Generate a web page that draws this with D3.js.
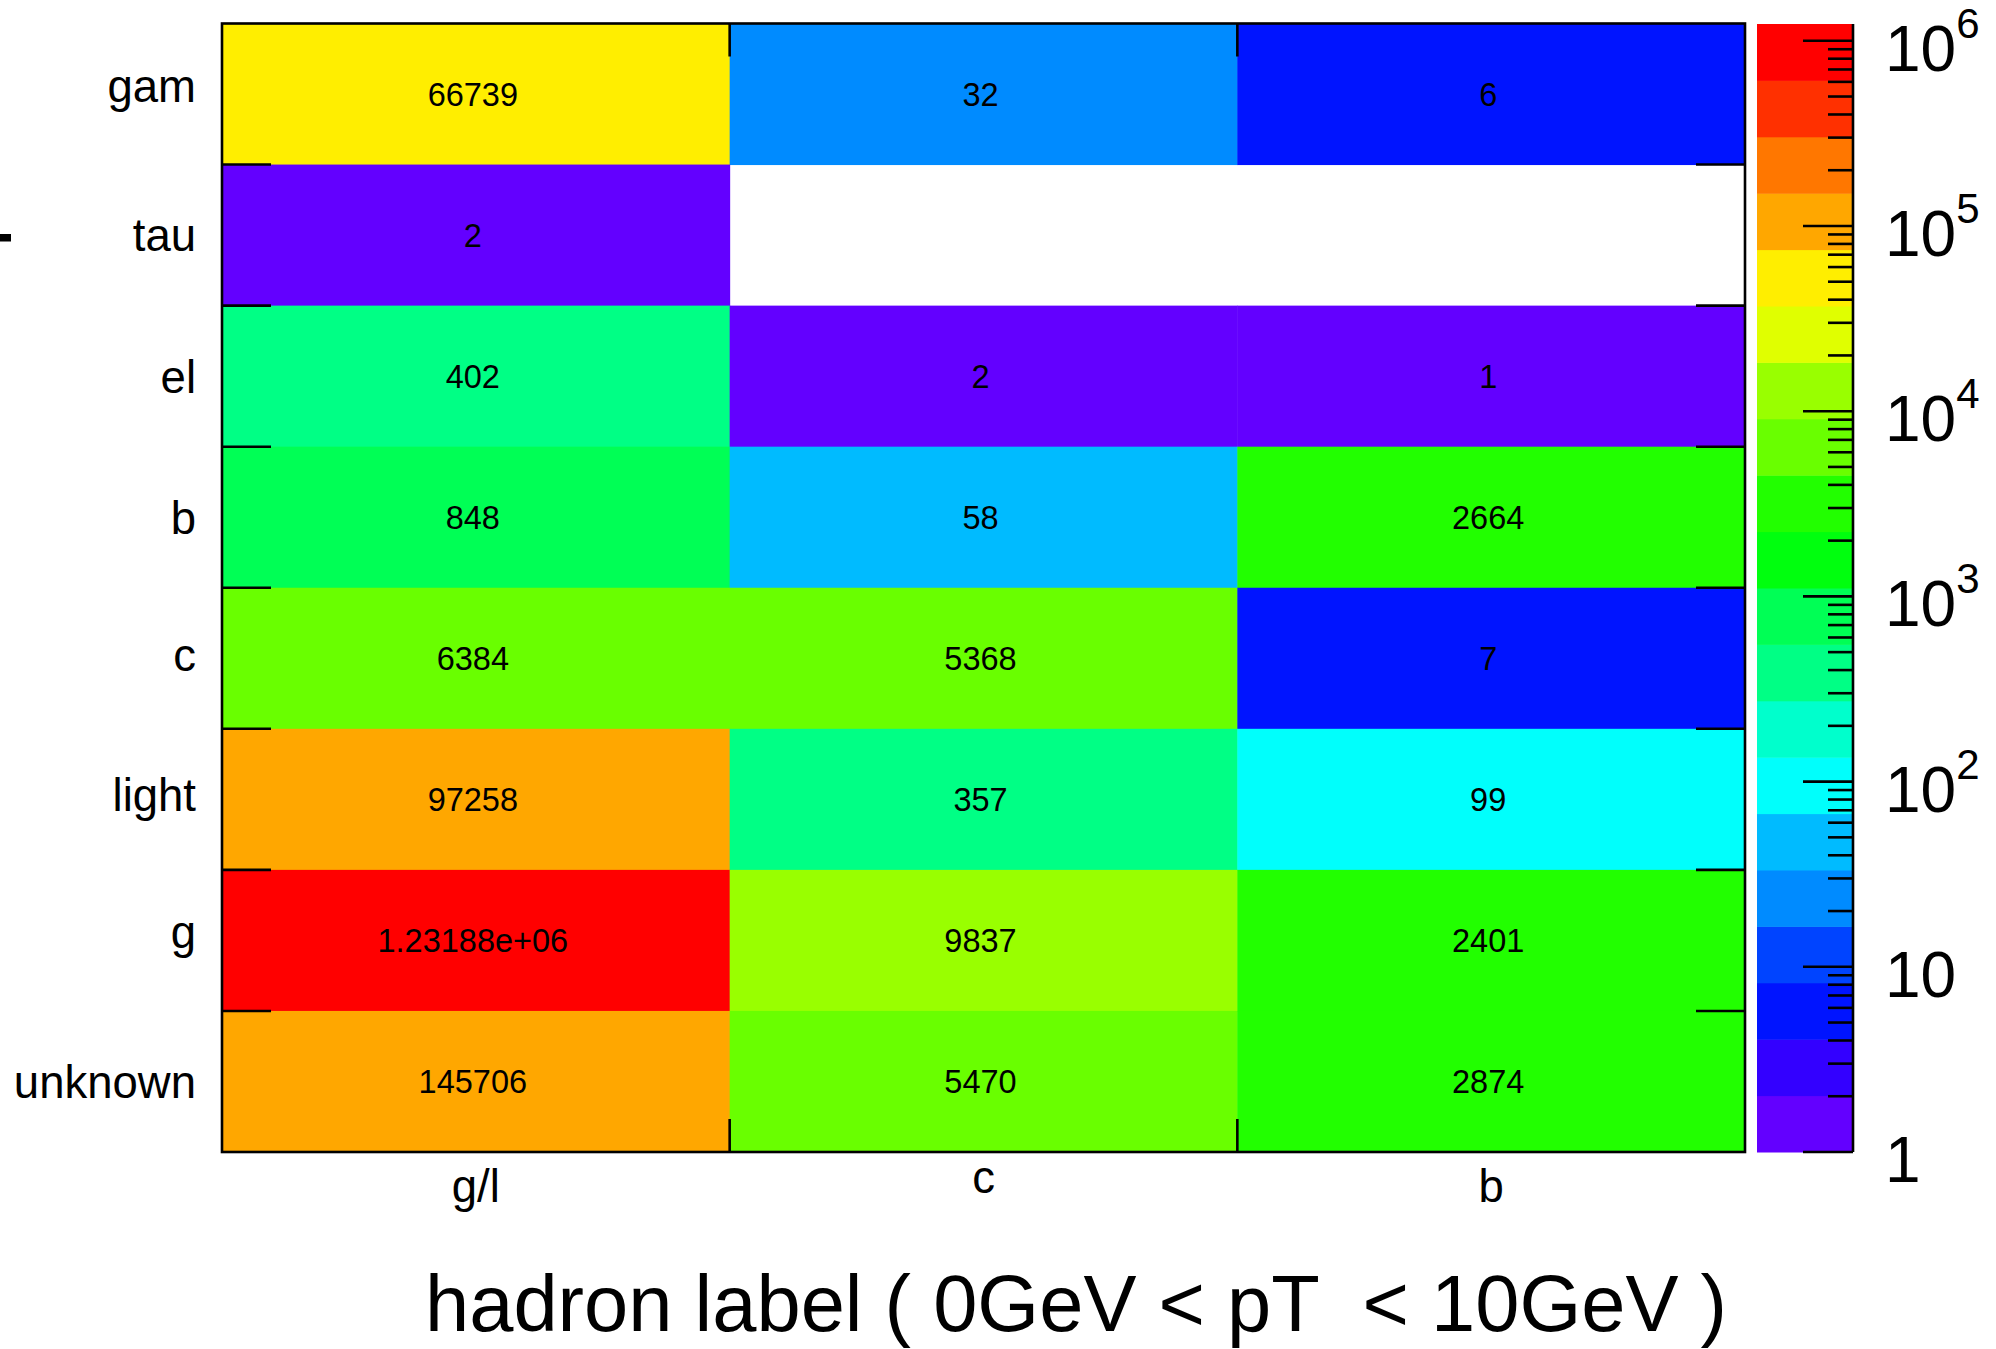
<!DOCTYPE html>
<html>
<head>
<meta charset="utf-8">
<script src="https://cdn.jsdelivr.net/npm/d3@7"></script>
<style>
  html, body { margin: 0; padding: 0; background: #fff; }
  svg { display: block; }
  text { font-family: "Liberation Sans", Arial, Helvetica, sans-serif; fill: #000; white-space: pre; }
</style>
</head>
<body>
<script>
// Truth-level label (rows) vs. hadron label (columns), entry counts per cell
const rowLabels = ["gam", "tau", "el", "b", "c", "light", "g", "unknown"];
const colLabels = ["g/l", "c", "b"];
const countsGL = [66739, 2, 402, 848, 6384, 97258, 1231880, 145706];
const countsC  = [32, null, 2, 58, 5368, 357, 9837, 5470];
const countsB  = [6, null, 1, 2664, 7, 99, 2401, 2874];
const zTickValues = [1, 10, 100, 1000, 10000, 100000, 1000000];
const xTitle = "hadron label ( 0GeV < pT  < 10GeV )";

const W = 1996, H = 1349;
const frame = { left: 222, right: 1745, top: 23.5, bottom: 1152 };
const bar = { left: 1757, right: 1853 };
const nContours = 20;
const FONT = '"Liberation Sans", Arial, Helvetica, sans-serif';

// long-form cells built from the column arrays
const columns = [countsGL, countsC, countsB];
const cells = [];
rowLabels.forEach((r, i) => {
  colLabels.forEach((c, j) => {
    const v = columns[j][i];
    if (v != null && v > 0) cells.push({ row: r, col: c, value: v });
  });
});
const zMin = 1;
const zMax = d3.max(cells, d => d.value);

// ink extents of a string, so labels can be centred on their glyphs
const ctx = document.createElement("canvas").getContext("2d");
function ink(str, size) {
  ctx.font = `${size}px ${FONT}`;
  const m = ctx.measureText(str);
  return { asc: m.actualBoundingBoxAscent, desc: m.actualBoundingBoxDescent };
}

// "%g"-style number text
function fmtG(v) {
  if (Math.abs(v) >= 1e6) {
    let [mant, exp] = v.toExponential(5).split("e");
    mant = mant.replace(/\.?0+$/, "");
    const sign = exp[0];
    let digits = exp.slice(1);
    if (digits.length < 2) digits = "0" + digits;
    return `${mant}e${sign}${digits}`;
  }
  return String(+v.toPrecision(6));
}

// rainbow palette: 50 hues from violet (280) to red (0), sampled by 20 contours
function contourColor(k) {
  const idx = Math.floor((k + 0.99) * 50 / nContours);
  const hue = 280 - (idx + 1) * (280 / 50);
  return d3.hsl(hue, 1, 0.5).formatHex();
}

const x = d3.scaleBand().domain(colLabels).range([frame.left, frame.right]);
const y = d3.scaleBand().domain(rowLabels).range([frame.top, frame.bottom]);
const zLevel = d3.scaleLog().domain([zMin, zMax]).range([0, nContours]);
const zBar = d3.scaleLog().domain([zMin, zMax]).range([frame.bottom, 24]);
const bandOf = v => Math.max(0, Math.min(nContours - 1, Math.floor(zLevel(v) + 1e-9)));

const svg = d3.select("body").append("svg")
  .attr("width", W).attr("height", H)
  .attr("viewBox", `0 0 ${W} ${H}`);

svg.append("rect").attr("width", W).attr("height", H).attr("fill", "#fff");

// heat-map cells
svg.append("g").selectAll("rect").data(cells).join("rect")
  .attr("x", d => x(d.col))
  .attr("y", d => y(d.row))
  .attr("width", x.bandwidth() + 0.5)
  .attr("height", y.bandwidth() + 0.5)
  .attr("fill", d => contourColor(bandOf(d.value)));

// cell contents
const cellFs = 32.5;
svg.append("g").selectAll("text").data(cells).join("text")
  .attr("x", d => x(d.col) + x.bandwidth() / 2 - 3)
  .attr("y", d => {
    const t = fmtG(d.value), m = ink(t, cellFs);
    return y(d.row) + y.bandwidth() / 2 + (m.asc - m.desc) / 2;
  })
  .attr("text-anchor", "middle")
  .attr("font-size", cellFs)
  .text(d => fmtG(d.value));

// frame and tick marks
const axisStroke = 2.6;
const g = svg.append("g").attr("stroke", "#000").attr("stroke-width", axisStroke).attr("fill", "none");
g.append("rect")
  .attr("x", frame.left).attr("y", frame.top)
  .attr("width", frame.right - frame.left).attr("height", frame.bottom - frame.top);
const rowEdges = rowLabels.slice(1).map(r => y(r));
const colEdges = colLabels.slice(1).map(c => x(c));
const yTick = 49, xTick = 33;
rowEdges.forEach(v => {
  g.append("line").attr("x1", frame.left).attr("x2", frame.left + yTick).attr("y1", v).attr("y2", v);
  g.append("line").attr("x1", frame.right).attr("x2", frame.right - yTick).attr("y1", v).attr("y2", v);
});
colEdges.forEach(v => {
  g.append("line").attr("x1", v).attr("x2", v).attr("y1", frame.bottom).attr("y2", frame.bottom - xTick);
  g.append("line").attr("x1", v).attr("x2", v).attr("y1", frame.top).attr("y2", frame.top + xTick);
});

// row labels, right aligned and centred on their glyphs
const rowFs = 45.5;
svg.append("g").selectAll("text").data(rowLabels).join("text")
  .attr("x", 196)
  .attr("y", r => {
    const m = ink(r, rowFs);
    return y(r) + y.bandwidth() / 2 + (m.asc - m.desc) / 2;
  })
  .attr("text-anchor", "end")
  .attr("font-size", rowFs)
  .text(r => r);

// column labels, hung from a common top line
const colFs = 45.5, colTop = 1168;
svg.append("g").selectAll("text").data(colLabels).join("text")
  .attr("x", c => x(c) + x.bandwidth() / 2)
  .attr("y", c => colTop + ink(c, colFs).asc)
  .attr("text-anchor", "middle")
  .attr("font-size", colFs)
  .text(c => c);

// short mark at the left edge
svg.append("rect").attr("x", 0).attr("y", 234).attr("width", 11).attr("height", 7.5).attr("fill", "#000");

// x-axis title
svg.append("text")
  .attr("x", 425).attr("y", 1331)
  .attr("font-size", 79)
  .attr("textLength", 1302)
  .attr("lengthAdjust", "spacingAndGlyphs")
  .text(xTitle);

// colour bar
const levels = d3.range(nContours + 1).map(k => Math.pow(10, Math.log10(zMin) + (Math.log10(zMax) - Math.log10(zMin)) * k / nContours));
svg.append("g").selectAll("rect").data(d3.range(nContours)).join("rect")
  .attr("x", bar.left)
  .attr("width", bar.right - bar.left)
  .attr("y", k => zBar(levels[k + 1]))
  .attr("height", k => zBar(levels[k]) - zBar(levels[k + 1]) + 0.5)
  .attr("fill", k => contourColor(k));

const zg = svg.append("g").attr("stroke", "#000").attr("stroke-width", axisStroke);
zg.append("line").attr("x1", bar.right).attr("x2", bar.right).attr("y1", 24).attr("y2", frame.bottom);
const minorTicks = zBar.ticks().filter(v => v <= zMax && !zTickValues.includes(v));
zg.selectAll("line.minor").data(minorTicks).join("line").attr("class", "minor")
  .attr("x1", bar.right).attr("x2", bar.right - 25)
  .attr("y1", v => zBar(v)).attr("y2", v => zBar(v));
zg.selectAll("line.major").data(zTickValues.filter(v => v <= zMax)).join("line").attr("class", "major")
  .attr("x1", bar.right).attr("x2", bar.right - 50)
  .attr("y1", v => zBar(v)).attr("y2", v => zBar(v));

const zLab = svg.append("g").selectAll("text").data(zTickValues.filter(v => v <= zMax)).join("text")
  .attr("x", 1885)
  .attr("y", v => zBar(v) + 30)
  .attr("font-size", 64);
zLab.each(function (v) {
  const e = Math.round(Math.log10(v));
  const t = d3.select(this);
  if (e <= 1) { t.text(String(v)); return; }
  t.append("tspan").text("10");
  t.append("tspan").attr("font-size", 42).attr("dy", -33).text(String(e));
});
</script>
</body>
</html>
